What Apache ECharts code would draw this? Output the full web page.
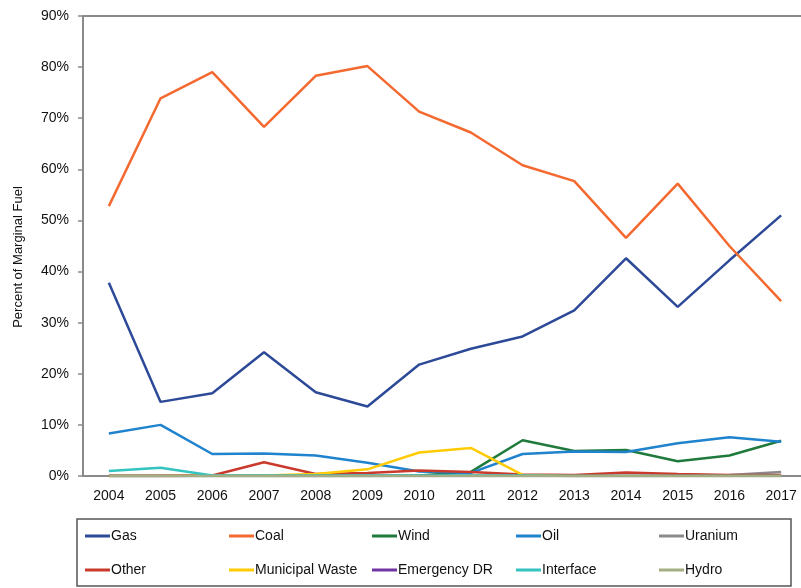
<!DOCTYPE html>
<html>
<head>
<meta charset="utf-8">
<script src="https://cdn.jsdelivr.net/npm/echarts@6/dist/echarts.min.js"></script>
<style>
html,body{margin:0;padding:0;background:#fff;overflow:hidden;}
#chart{width:812px;height:588px;}
</style>
</head>
<body>
<div id="chart"></div>
<script>
var years = ['2004','2005','2006','2007','2008','2009','2010','2011','2012','2013','2014','2015','2016','2017'];
var yTicks = [0,10,20,30,40,50,60,70,80,90];
var yTitle = 'Percent of Marginal Fuel';
var gas      = [37.8,14.5,16.2,24.2,16.4,13.6,21.8,24.9,27.3,32.4,42.6,33.1,42.2,51.0];
var coal     = [52.8,73.9,79.0,68.3,78.3,80.2,71.3,67.2,60.8,57.7,46.6,57.2,45.0,34.2];
var wind     = [0,0,0,0,0,0,0.1,0.8,7.0,4.9,5.1,2.9,4.0,6.9];
var oil      = [8.3,10.0,4.3,4.4,4.0,2.6,0.9,0.6,4.3,4.8,4.7,6.4,7.6,6.7];
var uranium  = [0,0,0,0,0,0,0,0,0,0,0,0,0.2,0.8];
var other    = [0,0,0.1,2.7,0.4,0.6,1.1,0.8,0.3,0.2,0.7,0.4,0.2,0.2];
var muniWaste= [0,0,0.1,0.1,0.4,1.3,4.6,5.5,0.2,0,0,0,0,0];
var emergDR  = [0,0,0,0,0,0,0,0,0,0,0,0,0,0];
var iface    = [1.0,1.6,0.1,0.1,0.1,0.1,0.1,0.1,0.1,0,0,0,0,0];
var hydro    = [0,0,0,0,0,0,0,0,0,0,0,0,0,0];

var names  = ['Gas','Coal','Wind','Oil','Uranium','Other','Municipal Waste','Emergency DR','Interface','Hydro'];
var values = [gas,coal,wind,oil,uranium,other,muniWaste,emergDR,iface,hydro];
var colors = ['#2d4a98','#f4692f','#1f7a3c','#1f83cd','#8a8a8a','#c93a2c','#ffcb05','#7134a0','#33c3c0','#a3ae83'];
var FONT = 'Liberation Sans, Arial, sans-serif';

var series = names.map(function(n,i){
  return {
    name:n, type:'line', data:values[i], symbol:'none', smooth:false,
    lineStyle:{color:colors[i], width:2.5}, itemStyle:{color:colors[i]}
  };
});

var colX = [85,229,372,516,659];
var rowY = [529,563];
var legends = names.map(function(n,i){
  return {
    data:[n], left: colX[i%5], top: rowY[Math.floor(i/5)],
    padding:0, itemWidth:25, itemHeight:3, icon:'rect', itemGap:0,
    textStyle:{fontFamily:FONT, fontSize:14, color:'#111', padding:[0,0,0,-4]},
    selectedMode:false
  };
});

var chart = echarts.init(document.getElementById('chart'), null, {renderer:'canvas'});
chart.setOption({
  animation:false,
  backgroundColor:'#fff',
  color: colors,
  grid:{left:83, top:16, width:724, height:460, show:true, borderColor:'#8a8a8a', borderWidth:2, backgroundColor:'transparent'},
  legend: legends,
  xAxis:{
    type:'category', data:years, boundaryGap:true,
    axisLine:{show:true, lineStyle:{color:'#8a8a8a', width:2}},
    axisTick:{show:false},
    axisLabel:{color:'#111', fontFamily:FONT, fontSize:14, margin:13},
    splitLine:{show:false}
  },
  yAxis:{
    type:'value', min:yTicks[0], max:yTicks[yTicks.length-1], interval:10,
    axisLine:{show:true, lineStyle:{color:'#8a8a8a', width:2}},
    axisTick:{show:true, length:5, lineStyle:{color:'#8a8a8a', width:1.5}},
    axisLabel:{color:'#111', fontFamily:FONT, fontSize:14, margin:14, formatter:'{value}%'},
    splitLine:{show:false}
  },
  graphic:[{
    type:'rect', shape:{x:77, y:519, width:714, height:67},
    style:{fill:'none', stroke:'#555', lineWidth:1.5}, silent:true
  },{
    type:'text', x:18, y:257, rotation:Math.PI/2,
    style:{text:yTitle, fill:'#111', font:'13px ' + FONT, textAlign:'center', textVerticalAlign:'middle'},
    silent:true
  }],
  series: series
});
</script>
</body>
</html>
